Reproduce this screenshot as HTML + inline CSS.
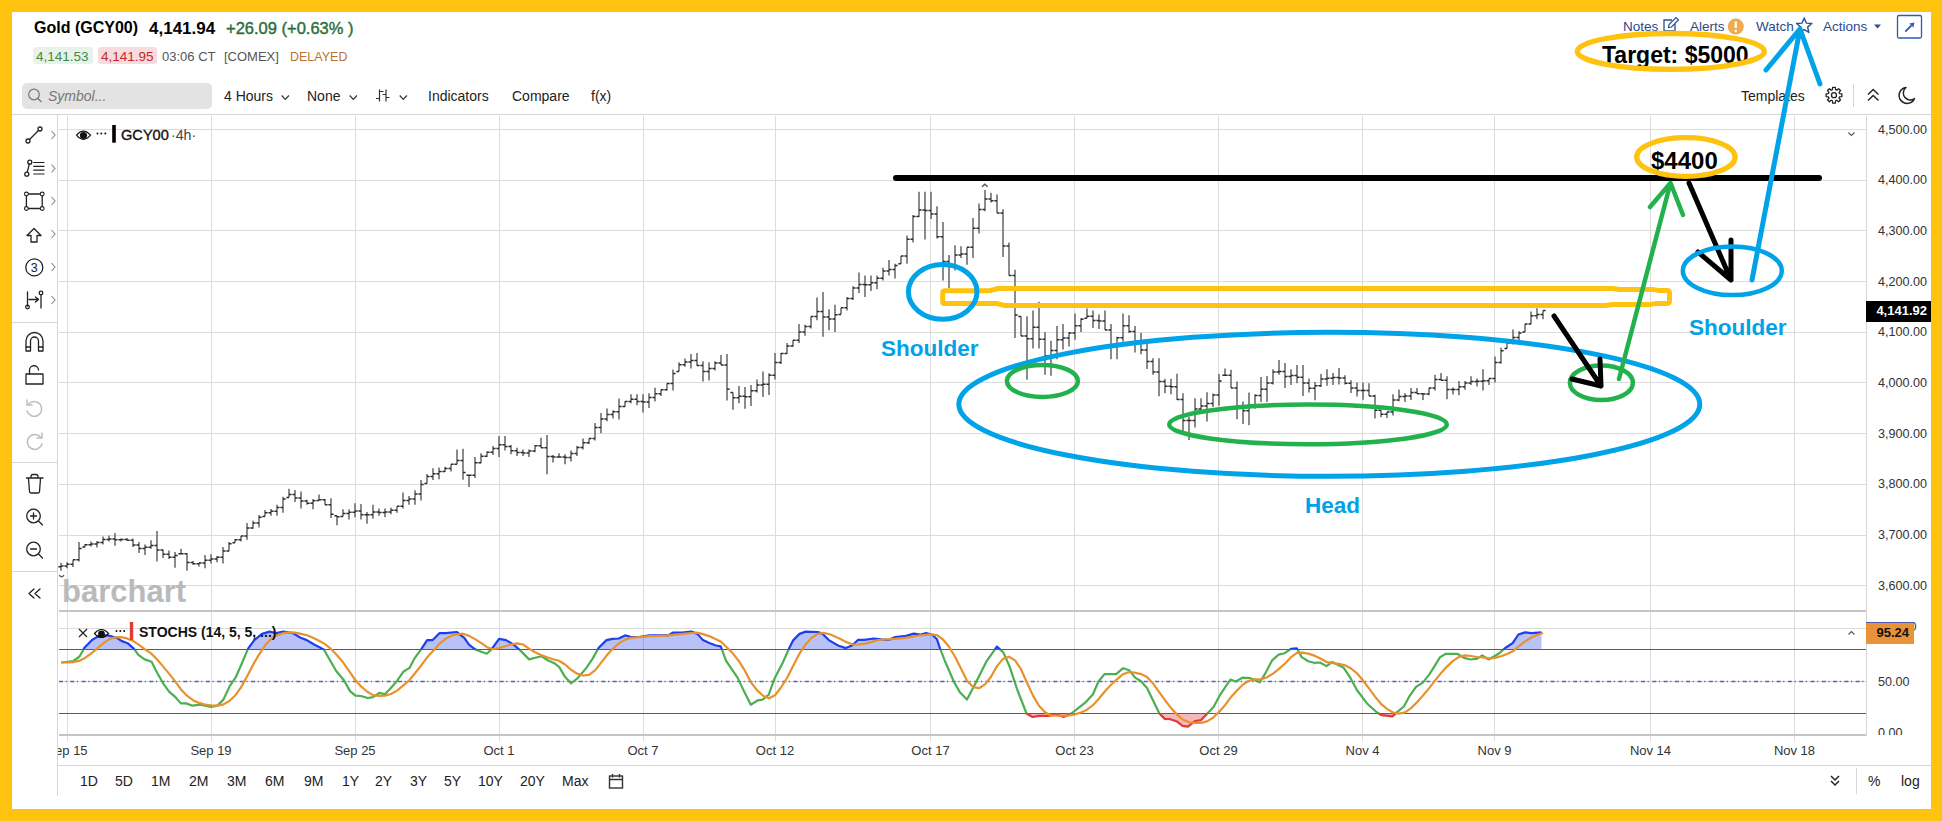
<!DOCTYPE html><html><head><meta charset="utf-8"><style>
*{margin:0;padding:0;box-sizing:border-box}
html,body{width:1942px;height:821px;overflow:hidden;background:#FFC20E;font-family:"Liberation Sans", sans-serif;}
#panel{position:absolute;left:12px;top:12px;width:1919px;height:797px;background:#fff}
.t{position:absolute;white-space:nowrap;line-height:1}
svg{position:absolute;left:0;top:0}
</style></head><body><div id="panel"></div>
<svg width="1942" height="821"><path d="M67.5 116V610M67.5 612V741M211.5 116V610M211.5 612V741M355.5 116V610M355.5 612V741M499.5 116V610M499.5 612V741M643.5 116V610M643.5 612V741M775.5 116V610M775.5 612V741M930.5 116V610M930.5 612V741M1074.5 116V610M1074.5 612V741M1218.5 116V610M1218.5 612V741M1362.5 116V610M1362.5 612V741M1494.5 116V610M1494.5 612V741M1650.5 116V610M1650.5 612V741M1794.5 116V610M1794.5 612V741M59 129.5H1866M59 180.5H1866M59 230.5H1866M59 281.5H1866M59 332.5H1866M59 382.5H1866M59 433.5H1866M59 484.5H1866M59 535.5H1866M59 585.5H1866M59 628.5H1866" stroke="#dcdcdc" stroke-width="1" fill="none" shape-rendering="crispEdges"/><path d="M59 611H1866M59 735H1866" stroke="#c4c4c4" stroke-width="2" fill="none" shape-rendering="crispEdges"/><path d="M1866.5 116V736M57.5 114V796" stroke="#d6d6d6" stroke-width="1" fill="none" shape-rendering="crispEdges"/><path d="M12 114.5H1931M57 765.5H1931M12 322.5H57M12 462.5H57M12 571.5H57" stroke="#d6d6d6" stroke-width="1" fill="none" shape-rendering="crispEdges"/><path d="M61 562.8V570.7M67 562.2V568.3M73 559.8V567.0M79 542.0V561.6M85 544.0V547.0M91 541.5V546.4M97 541.0V547.6M103 536.6V544.6M109 535.4V541.5M115 533.0V545.8M121 538.5V541.5M127 537.9V540.3M133 538.5V547.0M139 542.0V553.0M145 544.6V555.0M151 540.3V548.8M157 531.0V561.6M163 549.4V558.0M169 550.6V559.0M175 551.9V567.7M181 548.8V553.7M187 553.0V570.7M193 561.0V564.7M199 562.8V566.5M205 555.0V568.3M211 554.3V563.4M217 556.0V562.2M223 547.0V563.4M229 542.0V551.3M235 539.0V542.7M241 536.0V541.5M247 523.0V539.7M253 520.8V528.7M259 515.0V527.5M265 510.0V516.5M271 509.0V515.8M277 504.8V515.8M283 496.8V512.8M289 488.7V497.5M295 490.0V501.9M301 491.6V508.5M307 499.7V504.8M313 499.0V509.2M319 494.6V500.4M325 499.0V504.8M331 498.2V518.0M337 515.8V525.3M343 509.2V516.5M349 509.2V519.4M355 503.3V517.2M361 504.0V519.4M367 512.0V523.8M373 504.8V518.7M379 508.5V515.8M385 508.5V517.2M391 507.7V514.3M397 506.3V512.8M403 492.4V508.5M409 496.0V504.8M415 490.2V504.8M421 480.0V500.4M427 474.0V483.6M433 468.2V480.0M439 467.5V479.2M445 466.8V472.0M451 464.2V471.5M457 449.6V464.2M463 448.7V479.7M469 475.2V487.0M475 456.9V477.9M481 453.2V463.3M487 451.4V456.9M493 446.0V455.0M499 435.9V456.9M505 435.9V450.5M511 445.0V454.2M517 447.8V456.0M523 449.6V456.0M529 449.6V456.9M535 445.0V452.3M541 437.7V447.8M547 435.0V474.2M553 455.0V462.4M559 453.2V456.9M565 454.2V464.2M571 450.5V461.5M577 446.0V456.0M583 438.6V449.6M589 438.6V444.1M595 423.1V440.5M601 413.0V433.2M607 408.5V421.3M613 410.3V418.5M619 398.4V419.5M625 401.2V406.7M631 394.2V403.3M637 394.2V405.2M643 394.2V412.5M649 393.3V407.9M655 387.8V401.5M661 389.6V396.0M667 383.2V390.5M673 369.5V390.5M679 362.2V371.4M685 358.6V366.8M691 354.0V368.6M697 353.0V365.9M703 361.3V381.4M709 362.2V380.5M715 361.3V370.5M721 354.9V365.0M727 354.0V400.6M733 392.4V409.7M739 386.0V403.3M745 386.9V408.8M751 385.0V406.0M757 379.6V392.4M763 371.4V397.0M769 373.2V395.1M775 353.1V379.6M781 353.1V364.0M787 343.0V354.0M793 340.3V346.7M799 323.9V343.0M805 324.8V335.8M811 316.6V328.4M817 297.4V320.2M823 292.0V336.7M829 309.3V330.3M835 304.8V332.0M841 307.7V314.5M847 297.0V310.6M853 286.2V299.9M859 272.6V293.0M865 275.5V297.0M871 275.5V291.1M877 275.5V289.2M883 267.7V280.4M889 260.0V275.5M895 263.8V278.4M901 256.0V263.8M907 235.6V263.8M913 215.0V242.4M919 191.7V217.0M925 191.7V239.5M931 191.7V219.0M937 206.3V238.5M943 222.0V280.4M949 255.0V288.2M955 245.3V270.6M961 246.3V258.0M967 247.3V264.8M973 218.0V258.0M979 203.4V233.6M985 190.0V211.2M991 192.7V202.4M997 194.6V213.1M1003 209.2V257.0M1009 242.4V275.5M1015 269.7V337.9M1021 316.5V336.0M1027 316.3V379.7M1033 310.5V348.5M1039 301.7V348.5M1045 332.0V374.8M1051 340.7V375.8M1057 326.0V359.2M1063 324.1V349.5M1069 332.0V346.5M1075 313.4V339.7M1081 318.3V331.9M1087 308.5V318.3M1093 310.5V328.0M1099 314.4V329.0M1105 310.5V330.0M1111 324.1V359.2M1117 336.8V359.2M1123 313.4V341.7M1129 315.3V332.9M1135 326.0V352.4M1141 332.9V354.3M1147 343.6V369.0M1153 358.2V374.8M1159 358.2V396.2M1165 378.7V393.3M1171 378.7V394.3M1177 373.8V400.1M1183 393.3V431.3M1189 416.7V440.1M1195 398.2V427.4M1201 398.2V411.8M1207 392.3V421.6M1213 393.6V407.0M1219 374.1V405.8M1225 368.6V375.3M1231 369.8V388.1M1237 381.4V419.2M1243 401.5V424.0M1249 392.4V425.3M1255 394.2V408.8M1261 377.1V402.1M1267 375.9V402.1M1273 369.2V384.5M1279 360.1V374.7M1285 363.1V388.1M1291 369.2V385.0M1297 365.0V383.2M1303 365.0V396.0M1309 378.4V392.4M1315 382.0V400.3M1321 374.1V386.9M1327 369.2V385.7M1333 372.9V385.0M1339 368.0V384.5M1345 375.3V384.5M1351 380.2V393.0M1357 382.6V396.6M1363 382.6V399.7M1369 383.2V396.0M1375 394.8V418.6M1381 410.0V417.3M1387 411.9V418.0M1393 394.2V415.5M1399 389.5V401.2M1405 393.3V402.0M1411 388.1V400.0M1417 388.1V393.7M1423 392.9V400.0M1429 388.1V395.3M1435 374.7V390.5M1441 373.1V380.2M1447 376.3V399.2M1453 387.4V394.5M1459 381.0V395.3M1465 381.0V389.7M1471 376.3V385.0M1477 378.6V386.6M1483 369.2V390.5M1489 378.6V385.0M1495 356.5V382.6M1501 347.8V363.6M1507 343.0V348.6M1513 329.6V344.6M1519 331.2V344.6M1525 324.0V332.0M1531 311.4V324.0M1537 308.2V319.3M1543 310.6V319.3" stroke="#6e6e6e" stroke-width="1.6" fill="none"/><path d="M58.4 566.8H61M61 566.0H63.6M64.4 566.0H67M67 564.3H69.6M70.4 564.3H73M73 559.8H75.6M76.4 559.8H79M79 548.6H81.6M82.4 547.0H85M85 544.7H87.6M88.4 544.7H91M91 544.1H93.6M94.4 544.1H97M97 542.5H99.6M100.4 542.5H103M103 539.5H105.6M106.4 539.5H109M109 538.9H111.6M112.4 538.9H115M115 539.7H117.6M118.4 539.7H121M121 539.5H123.6M124.4 539.5H127M127 540.3H129.6M130.4 540.3H133M133 545.1H135.6M136.4 545.1H139M139 548.6H141.6M142.4 548.6H145M145 547.2H147.6M148.4 547.2H151M151 545.4H153.6M154.4 545.4H157M157 550.0H159.6M160.4 550.0H163M163 554.2H165.6M166.4 554.2H169M169 557.3H171.6M172.4 557.3H175M175 555.5H177.6M178.4 553.7H181M181 553.7H183.6M184.4 553.7H187M187 562.4H189.6M190.4 562.4H193M193 563.8H195.6M196.4 563.8H199M199 563.1H201.6M202.4 563.1H205M205 560.2H207.6M208.4 560.2H211M211 559.0H213.6M214.4 559.0H217M217 557.2H219.6M220.4 557.2H223M223 550.9H225.6M226.4 550.9H229M229 543.8H231.6M232.4 542.7H235M235 539.8H237.6M238.4 539.8H241M241 536.0H243.6M244.4 536.0H247M247 528.0H249.6M250.4 528.0H253M253 523.0H255.6M256.4 523.0H259M259 517.2H261.6M262.4 516.5H265M265 512.8H267.6M268.4 512.8H271M271 511.3H273.6M274.4 511.3H277M277 507.5H279.6M280.4 507.5H283M283 498.9H285.6M286.4 497.5H289M289 494.5H291.6M292.4 494.5H295M295 498.0H297.6M298.4 498.0H301M301 501.1H303.6M304.4 501.1H307M307 503.2H309.6M310.4 503.2H313M313 500.8H315.6M316.4 500.4H319M319 499.7H321.6M322.4 499.7H325M325 504.8H327.6M328.4 504.8H331M331 514.3H333.6M334.4 515.8H337M337 516.7H339.6M340.4 516.5H343M343 513.6H345.6M346.4 513.6H349M349 512.3H351.6M352.4 512.3H355M355 511.0H357.6M358.4 511.0H361M361 514.8H363.6M364.4 514.8H367M367 514.8H369.6M370.4 514.8H373M373 511.9H375.6M376.4 511.9H379M379 512.5H381.6M382.4 512.5H385M385 511.9H387.6M388.4 511.9H391M391 510.3H393.6M394.4 510.3H397M397 506.3H399.6M400.4 506.3H403M403 500.4H405.6M406.4 500.4H409M409 498.9H411.6M412.4 498.9H415M415 493.9H417.6M418.4 493.9H421M421 484.5H423.6M424.4 483.6H427M427 476.5H429.6M430.4 476.5H433M433 473.7H435.6M436.4 473.7H439M439 471.4H441.6M442.4 471.4H445M445 468.6H447.6M448.4 468.6H451M451 464.2H453.6M454.4 464.2H457M457 460.5H459.6M460.4 460.5H463M463 472.6H465.6M466.4 475.2H469M469 475.2H471.6M472.4 475.2H475M475 462.8H477.6M478.4 462.8H481M481 456.2H483.6M484.4 456.2H487M487 452.3H489.6M490.4 452.3H493M493 448.4H495.6M496.4 448.4H499M499 444.8H501.6M502.4 444.8H505M505 446.4H507.6M508.4 446.4H511M511 450.8H513.6M514.4 450.8H517M517 452.4H519.6M520.4 452.4H523M523 453.0H525.6M526.4 453.0H529M529 450.9H531.6M532.4 450.9H535M535 445.7H537.6M538.4 445.7H541M541 447.8H543.6M544.4 447.8H547M547 456.6H549.6M550.4 456.6H553M553 456.9H555.6M556.4 456.9H559M559 456.9H561.6M562.4 456.9H565M565 457.6H567.6M568.4 457.6H571M571 453.5H573.6M574.4 453.5H577M577 447.6H579.6M580.4 447.6H583M583 442.7H585.6M586.4 442.7H589M589 438.6H591.6M592.4 438.6H595M595 427.5H597.6M598.4 427.5H601M601 419.0H603.6M604.4 419.0H607M607 414.6H609.6M610.4 414.6H613M613 411.7H615.6M616.4 411.7H619M619 406.4H621.6M622.4 406.4H625M625 401.4H627.6M628.4 401.4H631M631 399.2H633.6M634.4 399.2H637M637 401.5H639.6M640.4 401.5H643M643 402.0H645.6M646.4 402.0H649M649 397.6H651.6M652.4 397.6H655M655 393.7H657.6M658.4 393.7H661M661 389.8H663.6M664.4 389.8H667M667 383.4H669.6M670.4 383.4H673M673 373.4H675.6M676.4 371.4H679M679 364.8H681.6M682.4 364.8H685M685 362.0H687.6M688.4 362.0H691M691 360.4H693.6M694.4 360.4H697M697 365.4H699.6M700.4 365.4H703M703 371.4H705.6M706.4 371.4H709M709 368.6H711.6M712.4 368.6H715M715 362.9H717.6M718.4 362.9H721M721 365.0H723.6M724.4 365.0H727M727 389.2H729.6M730.4 392.4H733M733 397.8H735.6M736.4 397.8H739M739 396.2H741.6M742.4 396.2H745M745 396.7H747.6M748.4 396.7H751M751 390.8H753.6M754.4 390.8H757M757 385.1H759.6M760.4 385.1H763M763 384.2H765.6M766.4 384.2H769M769 375.2H771.6M772.4 375.2H775M775 362.5H777.6M778.4 362.5H781M781 353.5H783.6M784.4 353.5H787M787 346.0H789.6M790.4 346.0H793M793 340.3H795.6M796.4 340.3H799M799 331.9H801.6M802.4 331.9H805M805 326.4H807.6M808.4 326.4H811M811 316.6H813.6M814.4 316.6H817M817 311.6H819.6M820.4 311.6H823M823 317.1H825.6M826.4 317.1H829M829 319.1H831.6M832.4 319.1H835M835 314.8H837.6M838.4 314.5H841M841 307.7H843.6M844.4 307.7H847M847 298.4H849.6M850.4 298.4H853M853 287.9H855.6M856.4 287.9H859M859 284.5H861.6M862.4 284.5H865M865 284.8H867.6M868.4 284.8H871M871 282.8H873.6M874.4 282.8H877M877 278.2H879.6M880.4 278.2H883M883 270.9H885.6M886.4 270.9H889M889 269.4H891.6M892.4 269.4H895M895 265.5H897.6M898.4 263.8H901M901 256.0H903.6M904.4 256.0H907M907 239.2H909.6M910.4 239.2H913M913 216.5H915.6M916.4 216.5H919M919 210.0H921.6M922.4 210.0H925M925 210.5H927.6M928.4 210.5H931M931 213.9H933.6M934.4 213.9H937M937 236.8H939.6M940.4 236.8H943M943 261.4H945.6M946.4 261.4H949M949 264.8H951.6M952.4 264.8H955M955 255.1H957.6M958.4 255.1H961M961 254.1H963.6M964.4 254.1H967M967 247.3H969.6M970.4 247.3H973M973 228.2H975.6M976.4 228.2H979M979 209.6H981.6M982.4 209.6H985M985 199.1H987.6M988.4 199.1H991M991 200.7H993.6M994.4 200.7H997M997 213.1H999.6M1000.4 213.1H1003M1003 246.0H1005.6M1006.4 246.0H1009M1009 275.5H1011.6M1012.4 275.5H1015M1015 315.0H1017.6M1018.4 316.5H1021M1021 336.0H1023.6M1024.4 336.0H1027M1027 338.8H1029.6M1030.4 338.8H1033M1033 327.3H1035.6M1036.4 327.3H1039M1039 339.2H1041.6M1042.4 339.2H1045M1045 355.8H1047.6M1048.4 355.8H1051M1051 350.4H1053.6M1054.4 350.4H1057M1057 339.7H1059.6M1060.4 339.7H1063M1063 338.0H1065.6M1066.4 338.0H1069M1069 332.9H1071.6M1072.4 332.9H1075M1075 325.8H1077.6M1078.4 325.8H1081M1081 319.2H1083.6M1084.4 318.3H1087M1087 316.3H1089.6M1090.4 316.3H1093M1093 320.5H1095.6M1096.4 320.5H1099M1099 321.0H1101.6M1102.4 321.0H1105M1105 330.0H1107.6M1108.4 330.0H1111M1111 344.8H1113.6M1114.4 344.8H1117M1117 337.8H1119.6M1120.4 337.8H1123M1123 325.8H1125.6M1126.4 325.8H1129M1129 331.6H1131.6M1132.4 331.6H1135M1135 341.4H1137.6M1138.4 341.4H1141M1141 350.0H1143.6M1144.4 350.0H1147M1147 361.4H1149.6M1150.4 361.4H1153M1153 371.9H1155.6M1156.4 371.9H1159M1159 381.6H1161.6M1162.4 381.6H1165M1165 386.2H1167.6M1168.4 386.2H1171M1171 386.7H1173.6M1174.4 386.7H1177M1177 399.6H1179.6M1180.4 399.6H1183M1183 420.4H1185.6M1186.4 420.4H1189M1189 420.6H1191.6M1192.4 420.6H1195M1195 408.9H1197.6M1198.4 408.9H1201M1201 406.0H1203.6M1204.4 406.0H1207M1207 403.6H1209.6M1210.4 403.6H1213M1213 395.1H1215.6M1216.4 395.1H1219M1219 381.0H1221.6M1222.4 375.3H1225M1225 375.3H1227.6M1228.4 375.3H1231M1231 388.1H1233.6M1234.4 388.1H1237M1237 406.5H1239.6M1240.4 406.5H1243M1243 410.8H1245.6M1246.4 410.8H1249M1249 405.2H1251.6M1252.4 405.2H1255M1255 395.6H1257.6M1258.4 395.6H1261M1261 389.3H1263.6M1264.4 389.3H1267M1267 382.9H1269.6M1270.4 382.9H1273M1273 372.1H1275.6M1276.4 372.1H1279M1279 371.5H1281.6M1282.4 371.5H1285M1285 376.4H1287.6M1288.4 376.4H1291M1291 375.6H1293.6M1294.4 375.6H1297M1297 377.3H1299.6M1300.4 377.3H1303M1303 382.9H1305.6M1306.4 382.9H1309M1309 388.3H1311.6M1312.4 388.3H1315M1315 385.8H1317.6M1318.4 385.8H1321M1321 379.0H1323.6M1324.4 379.0H1327M1327 378.2H1329.6M1330.4 378.2H1333M1333 377.6H1335.6M1336.4 377.6H1339M1339 378.1H1341.6M1342.4 378.1H1345M1345 383.2H1347.6M1348.4 383.2H1351M1351 388.1H1353.6M1354.4 388.1H1357M1357 390.4H1359.6M1360.4 390.4H1363M1363 390.4H1365.6M1366.4 390.4H1369M1369 396.0H1371.6M1372.4 396.0H1375M1375 410.2H1377.6M1378.4 410.2H1381M1381 414.3H1383.6M1384.4 414.3H1387M1387 411.9H1389.6M1390.4 411.9H1393M1393 400.1H1395.6M1396.4 400.1H1399M1399 396.5H1401.6M1402.4 396.5H1405M1405 395.9H1407.6M1408.4 395.9H1411M1411 392.5H1413.6M1414.4 392.5H1417M1417 393.7H1419.6M1420.4 393.7H1423M1423 394.1H1425.6M1426.4 394.1H1429M1429 388.1H1431.6M1432.4 388.1H1435M1435 379.6H1437.6M1438.4 379.6H1441M1441 380.2H1443.6M1444.4 380.2H1447M1447 389.4H1449.6M1450.4 389.4H1453M1453 389.5H1455.6M1456.4 389.5H1459M1459 386.8H1461.6M1462.4 386.8H1465M1465 383.0H1467.6M1468.4 383.0H1471M1471 381.6H1473.6M1474.4 381.6H1477M1477 381.2H1479.6M1480.4 381.2H1483M1483 380.8H1485.6M1486.4 380.8H1489M1489 378.6H1491.6M1492.4 378.6H1495M1495 362.6H1497.6M1498.4 362.6H1501M1501 350.8H1503.6M1504.4 348.6H1507M1507 343.0H1509.6M1510.4 343.0H1513M1513 337.5H1515.6M1516.4 337.5H1519M1519 332.9H1521.6M1522.4 332.0H1525M1525 324.0H1527.6M1528.4 324.0H1531M1531 315.7H1533.6M1534.4 315.7H1537M1537 314.4H1539.6M1540.4 314.4H1543M1543 310.6H1545.6" stroke="#2a2a2a" stroke-width="1.5" fill="none"/><defs><clipPath id="cAbove"><rect x="57" y="612" width="1809" height="37.5"/></clipPath><clipPath id="cBelow"><rect x="57" y="713.5" width="1809" height="40"/></clipPath><clipPath id="cMid"><rect x="57" y="649.5" width="1809" height="64.0"/></clipPath></defs><polygon points="61.2,649.5 61.2,662.5 73.5,661.0 79.7,656.3 84.4,647.8 92.0,640.0 99.8,635.4 107.5,635.4 116.8,637.8 121.4,640.9 127.6,643.2 133.8,648.6 138.4,654.8 144.6,659.4 151.6,661.7 157.0,672.5 163.1,683.3 169.3,691.8 175.5,697.2 180.9,703.4 186.3,703.4 192.5,705.7 200.2,704.7 211.0,706.8 217.2,705.7 223.4,699.6 229.6,686.4 235.8,677.2 241.9,663.3 248.1,648.6 254.3,640.1 262.0,633.9 269.7,631.6 275.9,633.1 283.6,631.6 292.9,633.1 300.6,637.8 306.8,640.1 314.5,644.7 323.8,649.4 330.0,660.2 336.2,671.0 343.9,680.3 350.0,691.1 355.4,695.7 360.8,696.0 367.8,698.0 373.2,697.2 379.4,692.9 384.8,694.2 390.2,688.7 396.3,681.8 403.3,671.8 409.5,667.9 414.9,657.8 421.1,649.4 427.2,640.1 432.7,640.1 439.6,633.1 445.8,633.1 456.6,632.0 464.3,637.8 469.0,644.7 475.1,649.4 481.3,651.7 486.7,653.7 491.4,649.4 499.1,638.8 506.0,640.1 513.8,644.7 519.9,650.1 529.2,659.4 535.4,657.8 541.6,656.3 547.7,660.2 553.9,662.9 559.3,667.1 564.7,676.4 570.9,683.3 577.1,678.7 586.4,667.9 592.6,658.6 598.7,647.8 606.5,640.1 612.6,638.8 618.8,638.5 625.0,635.4 631.2,637.0 638.9,637.0 649.6,635.4 660.4,635.4 668.2,635.4 672.8,632.7 682.1,632.7 691.3,631.6 697.5,633.9 702.9,640.1 709.9,643.2 716.1,645.5 720.7,646.3 726.1,660.9 737.7,677.9 743.9,691.1 750.8,704.7 757.8,700.3 762.4,699.6 768.6,694.9 774.8,677.9 782.5,663.3 789.4,647.8 793.3,640.1 799.5,633.9 805.7,631.6 818.0,632.0 822.7,633.9 828.8,640.1 838.1,645.5 845.8,648.1 852.0,645.5 858.2,639.8 864.4,639.8 873.6,638.5 881.4,639.3 889.1,639.8 895.3,637.0 906.1,635.9 913.8,633.6 920.0,634.7 926.2,633.1 932.3,634.7 937.0,639.3 940.1,648.6 944.6,660.2 953.9,681.8 960.1,692.6 967.0,699.6 975.5,683.3 986.3,661.7 996.9,646.6 1003.3,652.4 1009.5,666.3 1017.2,689.5 1026.5,713.5 1032.7,717.0 1038.9,715.8 1048.1,715.8 1057.4,714.5 1063.6,717.0 1071.3,713.5 1085.2,702.7 1093.0,694.2 1098.3,681.8 1104.5,674.1 1116.1,674.1 1123.1,668.2 1129.2,670.2 1135.4,677.9 1140.8,681.0 1147.0,688.0 1159.4,713.5 1164.8,718.9 1170.2,719.2 1176.4,721.2 1182.6,725.8 1188.0,726.6 1194.9,721.2 1201.1,720.1 1207.3,713.5 1213.4,707.3 1219.6,695.7 1230.4,679.5 1235.8,681.5 1242.4,677.7 1249.8,678.0 1259.7,682.3 1264.7,674.4 1272.1,660.4 1278.7,654.6 1284.4,653.3 1291.0,648.8 1296.8,648.3 1301.7,657.1 1308.3,661.2 1314.1,662.8 1319.9,662.5 1326.4,666.1 1332.2,662.0 1343.7,667.8 1350.3,677.7 1356.9,690.0 1366.8,703.2 1376.7,712.3 1381.6,715.2 1392.4,716.4 1396.5,712.6 1403.9,706.5 1409.7,695.8 1416.2,686.7 1422.8,682.6 1429.4,674.4 1440.1,657.1 1445.9,653.8 1457.4,653.8 1464.0,657.9 1470.6,659.5 1477.2,658.7 1482.2,655.4 1488.7,659.5 1498.6,653.8 1505.2,648.0 1512.6,643.1 1518.4,634.5 1525.0,632.4 1531.6,633.2 1541.5,632.4 1541.5,649.5" fill="#3a55e8" fill-opacity="0.36" clip-path="url(#cAbove)"/><polygon points="61.2,713.5 61.2,662.5 73.5,661.0 79.7,656.3 84.4,647.8 92.0,640.0 99.8,635.4 107.5,635.4 116.8,637.8 121.4,640.9 127.6,643.2 133.8,648.6 138.4,654.8 144.6,659.4 151.6,661.7 157.0,672.5 163.1,683.3 169.3,691.8 175.5,697.2 180.9,703.4 186.3,703.4 192.5,705.7 200.2,704.7 211.0,706.8 217.2,705.7 223.4,699.6 229.6,686.4 235.8,677.2 241.9,663.3 248.1,648.6 254.3,640.1 262.0,633.9 269.7,631.6 275.9,633.1 283.6,631.6 292.9,633.1 300.6,637.8 306.8,640.1 314.5,644.7 323.8,649.4 330.0,660.2 336.2,671.0 343.9,680.3 350.0,691.1 355.4,695.7 360.8,696.0 367.8,698.0 373.2,697.2 379.4,692.9 384.8,694.2 390.2,688.7 396.3,681.8 403.3,671.8 409.5,667.9 414.9,657.8 421.1,649.4 427.2,640.1 432.7,640.1 439.6,633.1 445.8,633.1 456.6,632.0 464.3,637.8 469.0,644.7 475.1,649.4 481.3,651.7 486.7,653.7 491.4,649.4 499.1,638.8 506.0,640.1 513.8,644.7 519.9,650.1 529.2,659.4 535.4,657.8 541.6,656.3 547.7,660.2 553.9,662.9 559.3,667.1 564.7,676.4 570.9,683.3 577.1,678.7 586.4,667.9 592.6,658.6 598.7,647.8 606.5,640.1 612.6,638.8 618.8,638.5 625.0,635.4 631.2,637.0 638.9,637.0 649.6,635.4 660.4,635.4 668.2,635.4 672.8,632.7 682.1,632.7 691.3,631.6 697.5,633.9 702.9,640.1 709.9,643.2 716.1,645.5 720.7,646.3 726.1,660.9 737.7,677.9 743.9,691.1 750.8,704.7 757.8,700.3 762.4,699.6 768.6,694.9 774.8,677.9 782.5,663.3 789.4,647.8 793.3,640.1 799.5,633.9 805.7,631.6 818.0,632.0 822.7,633.9 828.8,640.1 838.1,645.5 845.8,648.1 852.0,645.5 858.2,639.8 864.4,639.8 873.6,638.5 881.4,639.3 889.1,639.8 895.3,637.0 906.1,635.9 913.8,633.6 920.0,634.7 926.2,633.1 932.3,634.7 937.0,639.3 940.1,648.6 944.6,660.2 953.9,681.8 960.1,692.6 967.0,699.6 975.5,683.3 986.3,661.7 996.9,646.6 1003.3,652.4 1009.5,666.3 1017.2,689.5 1026.5,713.5 1032.7,717.0 1038.9,715.8 1048.1,715.8 1057.4,714.5 1063.6,717.0 1071.3,713.5 1085.2,702.7 1093.0,694.2 1098.3,681.8 1104.5,674.1 1116.1,674.1 1123.1,668.2 1129.2,670.2 1135.4,677.9 1140.8,681.0 1147.0,688.0 1159.4,713.5 1164.8,718.9 1170.2,719.2 1176.4,721.2 1182.6,725.8 1188.0,726.6 1194.9,721.2 1201.1,720.1 1207.3,713.5 1213.4,707.3 1219.6,695.7 1230.4,679.5 1235.8,681.5 1242.4,677.7 1249.8,678.0 1259.7,682.3 1264.7,674.4 1272.1,660.4 1278.7,654.6 1284.4,653.3 1291.0,648.8 1296.8,648.3 1301.7,657.1 1308.3,661.2 1314.1,662.8 1319.9,662.5 1326.4,666.1 1332.2,662.0 1343.7,667.8 1350.3,677.7 1356.9,690.0 1366.8,703.2 1376.7,712.3 1381.6,715.2 1392.4,716.4 1396.5,712.6 1403.9,706.5 1409.7,695.8 1416.2,686.7 1422.8,682.6 1429.4,674.4 1440.1,657.1 1445.9,653.8 1457.4,653.8 1464.0,657.9 1470.6,659.5 1477.2,658.7 1482.2,655.4 1488.7,659.5 1498.6,653.8 1505.2,648.0 1512.6,643.1 1518.4,634.5 1525.0,632.4 1531.6,633.2 1541.5,632.4 1541.5,713.5" fill="#e53945" fill-opacity="0.36" clip-path="url(#cBelow)"/><path d="M59 649.5H1866M59 713.5H1866" stroke="#4a55b0" stroke-width="1.1" fill="none"/><path d="M59 681.5H1866" stroke="#d8d8d8" stroke-width="1" fill="none"/><path d="M59 681.5H1866" stroke="#5561b5" stroke-width="1.3" stroke-dasharray="4 2.6 1.2 3.5" fill="none"/><polyline points="61.2,662.5 73.5,661.0 79.7,656.3 84.4,647.8 92.0,640.0 99.8,635.4 107.5,635.4 116.8,637.8 121.4,640.9 127.6,643.2 133.8,648.6 138.4,654.8 144.6,659.4 151.6,661.7 157.0,672.5 163.1,683.3 169.3,691.8 175.5,697.2 180.9,703.4 186.3,703.4 192.5,705.7 200.2,704.7 211.0,706.8 217.2,705.7 223.4,699.6 229.6,686.4 235.8,677.2 241.9,663.3 248.1,648.6 254.3,640.1 262.0,633.9 269.7,631.6 275.9,633.1 283.6,631.6 292.9,633.1 300.6,637.8 306.8,640.1 314.5,644.7 323.8,649.4 330.0,660.2 336.2,671.0 343.9,680.3 350.0,691.1 355.4,695.7 360.8,696.0 367.8,698.0 373.2,697.2 379.4,692.9 384.8,694.2 390.2,688.7 396.3,681.8 403.3,671.8 409.5,667.9 414.9,657.8 421.1,649.4 427.2,640.1 432.7,640.1 439.6,633.1 445.8,633.1 456.6,632.0 464.3,637.8 469.0,644.7 475.1,649.4 481.3,651.7 486.7,653.7 491.4,649.4 499.1,638.8 506.0,640.1 513.8,644.7 519.9,650.1 529.2,659.4 535.4,657.8 541.6,656.3 547.7,660.2 553.9,662.9 559.3,667.1 564.7,676.4 570.9,683.3 577.1,678.7 586.4,667.9 592.6,658.6 598.7,647.8 606.5,640.1 612.6,638.8 618.8,638.5 625.0,635.4 631.2,637.0 638.9,637.0 649.6,635.4 660.4,635.4 668.2,635.4 672.8,632.7 682.1,632.7 691.3,631.6 697.5,633.9 702.9,640.1 709.9,643.2 716.1,645.5 720.7,646.3 726.1,660.9 737.7,677.9 743.9,691.1 750.8,704.7 757.8,700.3 762.4,699.6 768.6,694.9 774.8,677.9 782.5,663.3 789.4,647.8 793.3,640.1 799.5,633.9 805.7,631.6 818.0,632.0 822.7,633.9 828.8,640.1 838.1,645.5 845.8,648.1 852.0,645.5 858.2,639.8 864.4,639.8 873.6,638.5 881.4,639.3 889.1,639.8 895.3,637.0 906.1,635.9 913.8,633.6 920.0,634.7 926.2,633.1 932.3,634.7 937.0,639.3 940.1,648.6 944.6,660.2 953.9,681.8 960.1,692.6 967.0,699.6 975.5,683.3 986.3,661.7 996.9,646.6 1003.3,652.4 1009.5,666.3 1017.2,689.5 1026.5,713.5 1032.7,717.0 1038.9,715.8 1048.1,715.8 1057.4,714.5 1063.6,717.0 1071.3,713.5 1085.2,702.7 1093.0,694.2 1098.3,681.8 1104.5,674.1 1116.1,674.1 1123.1,668.2 1129.2,670.2 1135.4,677.9 1140.8,681.0 1147.0,688.0 1159.4,713.5 1164.8,718.9 1170.2,719.2 1176.4,721.2 1182.6,725.8 1188.0,726.6 1194.9,721.2 1201.1,720.1 1207.3,713.5 1213.4,707.3 1219.6,695.7 1230.4,679.5 1235.8,681.5 1242.4,677.7 1249.8,678.0 1259.7,682.3 1264.7,674.4 1272.1,660.4 1278.7,654.6 1284.4,653.3 1291.0,648.8 1296.8,648.3 1301.7,657.1 1308.3,661.2 1314.1,662.8 1319.9,662.5 1326.4,666.1 1332.2,662.0 1343.7,667.8 1350.3,677.7 1356.9,690.0 1366.8,703.2 1376.7,712.3 1381.6,715.2 1392.4,716.4 1396.5,712.6 1403.9,706.5 1409.7,695.8 1416.2,686.7 1422.8,682.6 1429.4,674.4 1440.1,657.1 1445.9,653.8 1457.4,653.8 1464.0,657.9 1470.6,659.5 1477.2,658.7 1482.2,655.4 1488.7,659.5 1498.6,653.8 1505.2,648.0 1512.6,643.1 1518.4,634.5 1525.0,632.4 1531.6,633.2 1541.5,632.4" fill="none" stroke="#4caf50" stroke-width="2.2" stroke-linejoin="round" clip-path="url(#cMid)"/><polyline points="61.2,662.5 73.5,661.0 79.7,656.3 84.4,647.8 92.0,640.0 99.8,635.4 107.5,635.4 116.8,637.8 121.4,640.9 127.6,643.2 133.8,648.6 138.4,654.8 144.6,659.4 151.6,661.7 157.0,672.5 163.1,683.3 169.3,691.8 175.5,697.2 180.9,703.4 186.3,703.4 192.5,705.7 200.2,704.7 211.0,706.8 217.2,705.7 223.4,699.6 229.6,686.4 235.8,677.2 241.9,663.3 248.1,648.6 254.3,640.1 262.0,633.9 269.7,631.6 275.9,633.1 283.6,631.6 292.9,633.1 300.6,637.8 306.8,640.1 314.5,644.7 323.8,649.4 330.0,660.2 336.2,671.0 343.9,680.3 350.0,691.1 355.4,695.7 360.8,696.0 367.8,698.0 373.2,697.2 379.4,692.9 384.8,694.2 390.2,688.7 396.3,681.8 403.3,671.8 409.5,667.9 414.9,657.8 421.1,649.4 427.2,640.1 432.7,640.1 439.6,633.1 445.8,633.1 456.6,632.0 464.3,637.8 469.0,644.7 475.1,649.4 481.3,651.7 486.7,653.7 491.4,649.4 499.1,638.8 506.0,640.1 513.8,644.7 519.9,650.1 529.2,659.4 535.4,657.8 541.6,656.3 547.7,660.2 553.9,662.9 559.3,667.1 564.7,676.4 570.9,683.3 577.1,678.7 586.4,667.9 592.6,658.6 598.7,647.8 606.5,640.1 612.6,638.8 618.8,638.5 625.0,635.4 631.2,637.0 638.9,637.0 649.6,635.4 660.4,635.4 668.2,635.4 672.8,632.7 682.1,632.7 691.3,631.6 697.5,633.9 702.9,640.1 709.9,643.2 716.1,645.5 720.7,646.3 726.1,660.9 737.7,677.9 743.9,691.1 750.8,704.7 757.8,700.3 762.4,699.6 768.6,694.9 774.8,677.9 782.5,663.3 789.4,647.8 793.3,640.1 799.5,633.9 805.7,631.6 818.0,632.0 822.7,633.9 828.8,640.1 838.1,645.5 845.8,648.1 852.0,645.5 858.2,639.8 864.4,639.8 873.6,638.5 881.4,639.3 889.1,639.8 895.3,637.0 906.1,635.9 913.8,633.6 920.0,634.7 926.2,633.1 932.3,634.7 937.0,639.3 940.1,648.6 944.6,660.2 953.9,681.8 960.1,692.6 967.0,699.6 975.5,683.3 986.3,661.7 996.9,646.6 1003.3,652.4 1009.5,666.3 1017.2,689.5 1026.5,713.5 1032.7,717.0 1038.9,715.8 1048.1,715.8 1057.4,714.5 1063.6,717.0 1071.3,713.5 1085.2,702.7 1093.0,694.2 1098.3,681.8 1104.5,674.1 1116.1,674.1 1123.1,668.2 1129.2,670.2 1135.4,677.9 1140.8,681.0 1147.0,688.0 1159.4,713.5 1164.8,718.9 1170.2,719.2 1176.4,721.2 1182.6,725.8 1188.0,726.6 1194.9,721.2 1201.1,720.1 1207.3,713.5 1213.4,707.3 1219.6,695.7 1230.4,679.5 1235.8,681.5 1242.4,677.7 1249.8,678.0 1259.7,682.3 1264.7,674.4 1272.1,660.4 1278.7,654.6 1284.4,653.3 1291.0,648.8 1296.8,648.3 1301.7,657.1 1308.3,661.2 1314.1,662.8 1319.9,662.5 1326.4,666.1 1332.2,662.0 1343.7,667.8 1350.3,677.7 1356.9,690.0 1366.8,703.2 1376.7,712.3 1381.6,715.2 1392.4,716.4 1396.5,712.6 1403.9,706.5 1409.7,695.8 1416.2,686.7 1422.8,682.6 1429.4,674.4 1440.1,657.1 1445.9,653.8 1457.4,653.8 1464.0,657.9 1470.6,659.5 1477.2,658.7 1482.2,655.4 1488.7,659.5 1498.6,653.8 1505.2,648.0 1512.6,643.1 1518.4,634.5 1525.0,632.4 1531.6,633.2 1541.5,632.4" fill="none" stroke="#1d3ff0" stroke-width="2.2" stroke-linejoin="round" clip-path="url(#cAbove)"/><polyline points="61.2,662.5 73.5,661.0 79.7,656.3 84.4,647.8 92.0,640.0 99.8,635.4 107.5,635.4 116.8,637.8 121.4,640.9 127.6,643.2 133.8,648.6 138.4,654.8 144.6,659.4 151.6,661.7 157.0,672.5 163.1,683.3 169.3,691.8 175.5,697.2 180.9,703.4 186.3,703.4 192.5,705.7 200.2,704.7 211.0,706.8 217.2,705.7 223.4,699.6 229.6,686.4 235.8,677.2 241.9,663.3 248.1,648.6 254.3,640.1 262.0,633.9 269.7,631.6 275.9,633.1 283.6,631.6 292.9,633.1 300.6,637.8 306.8,640.1 314.5,644.7 323.8,649.4 330.0,660.2 336.2,671.0 343.9,680.3 350.0,691.1 355.4,695.7 360.8,696.0 367.8,698.0 373.2,697.2 379.4,692.9 384.8,694.2 390.2,688.7 396.3,681.8 403.3,671.8 409.5,667.9 414.9,657.8 421.1,649.4 427.2,640.1 432.7,640.1 439.6,633.1 445.8,633.1 456.6,632.0 464.3,637.8 469.0,644.7 475.1,649.4 481.3,651.7 486.7,653.7 491.4,649.4 499.1,638.8 506.0,640.1 513.8,644.7 519.9,650.1 529.2,659.4 535.4,657.8 541.6,656.3 547.7,660.2 553.9,662.9 559.3,667.1 564.7,676.4 570.9,683.3 577.1,678.7 586.4,667.9 592.6,658.6 598.7,647.8 606.5,640.1 612.6,638.8 618.8,638.5 625.0,635.4 631.2,637.0 638.9,637.0 649.6,635.4 660.4,635.4 668.2,635.4 672.8,632.7 682.1,632.7 691.3,631.6 697.5,633.9 702.9,640.1 709.9,643.2 716.1,645.5 720.7,646.3 726.1,660.9 737.7,677.9 743.9,691.1 750.8,704.7 757.8,700.3 762.4,699.6 768.6,694.9 774.8,677.9 782.5,663.3 789.4,647.8 793.3,640.1 799.5,633.9 805.7,631.6 818.0,632.0 822.7,633.9 828.8,640.1 838.1,645.5 845.8,648.1 852.0,645.5 858.2,639.8 864.4,639.8 873.6,638.5 881.4,639.3 889.1,639.8 895.3,637.0 906.1,635.9 913.8,633.6 920.0,634.7 926.2,633.1 932.3,634.7 937.0,639.3 940.1,648.6 944.6,660.2 953.9,681.8 960.1,692.6 967.0,699.6 975.5,683.3 986.3,661.7 996.9,646.6 1003.3,652.4 1009.5,666.3 1017.2,689.5 1026.5,713.5 1032.7,717.0 1038.9,715.8 1048.1,715.8 1057.4,714.5 1063.6,717.0 1071.3,713.5 1085.2,702.7 1093.0,694.2 1098.3,681.8 1104.5,674.1 1116.1,674.1 1123.1,668.2 1129.2,670.2 1135.4,677.9 1140.8,681.0 1147.0,688.0 1159.4,713.5 1164.8,718.9 1170.2,719.2 1176.4,721.2 1182.6,725.8 1188.0,726.6 1194.9,721.2 1201.1,720.1 1207.3,713.5 1213.4,707.3 1219.6,695.7 1230.4,679.5 1235.8,681.5 1242.4,677.7 1249.8,678.0 1259.7,682.3 1264.7,674.4 1272.1,660.4 1278.7,654.6 1284.4,653.3 1291.0,648.8 1296.8,648.3 1301.7,657.1 1308.3,661.2 1314.1,662.8 1319.9,662.5 1326.4,666.1 1332.2,662.0 1343.7,667.8 1350.3,677.7 1356.9,690.0 1366.8,703.2 1376.7,712.3 1381.6,715.2 1392.4,716.4 1396.5,712.6 1403.9,706.5 1409.7,695.8 1416.2,686.7 1422.8,682.6 1429.4,674.4 1440.1,657.1 1445.9,653.8 1457.4,653.8 1464.0,657.9 1470.6,659.5 1477.2,658.7 1482.2,655.4 1488.7,659.5 1498.6,653.8 1505.2,648.0 1512.6,643.1 1518.4,634.5 1525.0,632.4 1531.6,633.2 1541.5,632.4" fill="none" stroke="#e53935" stroke-width="2.2" stroke-linejoin="round" clip-path="url(#cBelow)"/><polyline points="61.0,662.5 67.0,662.4 73.0,662.1 79.0,660.9 85.0,657.9 91.0,653.6 97.0,648.6 103.0,643.5 109.0,639.3 115.0,637.3 121.0,637.2 127.0,638.4 133.0,640.9 139.0,644.8 145.0,649.3 151.0,653.4 157.0,659.3 163.0,666.4 169.0,673.6 175.0,681.1 181.0,689.4 187.0,695.7 193.0,700.2 199.0,702.9 205.0,704.6 211.0,705.3 217.0,705.7 223.0,704.6 229.0,701.2 235.0,695.7 241.0,687.4 247.0,676.5 253.0,664.9 259.0,654.6 265.0,645.6 271.0,638.9 277.0,635.2 283.0,633.2 289.0,632.4 295.0,632.7 301.0,633.9 307.0,635.3 313.0,637.8 319.0,640.7 325.0,644.1 331.0,648.9 337.0,655.2 343.0,662.3 349.0,670.8 355.0,679.6 361.0,686.4 367.0,691.5 373.0,695.1 379.0,695.9 385.0,695.6 391.0,694.0 397.0,690.6 403.0,685.6 409.0,680.6 415.0,673.3 421.0,665.7 427.0,657.6 433.0,651.1 439.0,644.2 445.0,639.3 451.0,635.9 457.0,634.3 463.0,633.7 469.0,635.9 475.0,639.1 481.0,642.9 487.0,647.2 493.0,649.2 499.0,648.1 505.0,646.2 511.0,644.5 517.0,643.3 523.0,644.5 529.0,648.6 535.0,652.2 541.0,654.9 547.0,657.3 553.0,659.2 559.0,660.7 565.0,664.5 571.0,669.8 577.0,673.6 583.0,675.5 589.0,674.9 595.0,670.4 601.0,662.9 607.0,655.1 613.0,648.5 619.0,643.4 625.0,639.6 631.0,637.9 637.0,637.3 643.0,636.8 649.0,636.2 655.0,636.2 661.0,635.9 667.0,635.6 673.0,634.9 679.0,634.3 685.0,633.7 691.0,633.0 697.0,632.6 703.0,634.1 709.0,636.1 715.0,638.7 721.0,641.8 727.0,647.5 733.0,653.6 739.0,661.2 745.0,670.9 751.0,682.3 757.0,690.1 763.0,695.7 769.0,698.3 775.0,695.2 781.0,687.5 787.0,678.0 793.0,666.3 799.0,654.4 805.0,645.3 811.0,638.4 817.0,634.1 823.0,632.8 829.0,634.0 835.0,636.4 841.0,639.3 847.0,642.4 853.0,644.5 859.0,644.4 865.0,643.6 871.0,642.1 877.0,640.4 883.0,639.3 889.0,639.3 895.0,638.8 901.0,638.3 907.0,637.7 913.0,636.6 919.0,635.5 925.0,634.8 931.0,634.4 937.0,635.1 943.0,639.5 949.0,646.7 955.0,656.8 961.0,668.6 967.0,680.7 973.0,687.1 979.0,688.2 985.0,684.4 991.0,676.7 997.0,666.1 1003.0,658.9 1009.0,656.7 1015.0,660.4 1021.0,669.2 1027.0,682.7 1033.0,695.6 1039.0,705.7 1045.0,712.3 1051.0,715.5 1057.0,715.7 1063.0,715.7 1069.0,715.4 1075.0,714.4 1081.0,712.5 1087.0,709.7 1093.0,705.2 1099.0,698.5 1105.0,691.2 1111.0,684.8 1117.0,679.3 1123.0,674.2 1129.0,672.0 1135.0,672.7 1141.0,674.1 1147.0,677.0 1153.0,683.4 1159.0,691.9 1165.0,700.2 1171.0,707.9 1177.0,714.6 1183.0,719.7 1189.0,722.3 1195.0,722.8 1201.0,722.9 1207.0,721.4 1213.0,717.7 1219.0,711.9 1225.0,705.2 1231.0,697.1 1237.0,690.5 1243.0,684.5 1249.0,680.8 1255.0,679.3 1261.0,679.4 1267.0,677.2 1273.0,673.6 1279.0,668.9 1285.0,663.5 1291.0,657.2 1297.0,652.9 1303.0,652.6 1309.0,653.9 1315.0,655.9 1321.0,658.8 1327.0,662.2 1333.0,663.1 1339.0,663.9 1345.0,665.3 1351.0,668.5 1357.0,673.3 1363.0,680.5 1369.0,688.4 1375.0,696.6 1381.0,703.8 1387.0,708.9 1393.0,712.5 1399.0,713.6 1405.0,712.3 1411.0,708.1 1417.0,702.2 1423.0,695.5 1429.0,688.4 1435.0,680.6 1441.0,673.1 1447.0,666.6 1453.0,660.9 1459.0,656.9 1465.0,655.4 1471.0,656.0 1477.0,657.0 1483.0,657.4 1489.0,658.3 1495.0,657.9 1501.0,656.3 1507.0,653.9 1513.0,651.2 1519.0,646.2 1525.0,641.5 1531.0,637.8 1537.0,635.0 1543.0,633.0" fill="none" stroke="#e8922e" stroke-width="2.2" stroke-linejoin="round"/></svg><div class="t" style="left:34px;top:19.5px;font-size:16px;font-weight:bold;color:#000">Gold (GCY00)</div><div class="t" style="left:149px;top:19.5px;font-size:17px;font-weight:bold;color:#000">4,141.94</div><div class="t" style="left:226px;top:19.5px;font-size:16.5px;color:#2b6e3b;-webkit-text-stroke:0.4px #2b6e3b">+26.09 (+0.63% )</div><div style="position:absolute;left:33px;top:47px;width:60px;height:17px;background:#e8f1ea;border-radius:3px"></div><div style="position:absolute;left:98px;top:47px;width:59px;height:17px;background:#f6dcde;border-radius:3px"></div><div class="t" style="left:36px;top:50px;font-size:13.5px;color:#3e8e41">4,141.53</div><div class="t" style="left:101px;top:50px;font-size:13.5px;color:#c62828">4,141.95</div><div class="t" style="left:162px;top:50px;font-size:13px;color:#555">03:06 CT</div><div class="t" style="left:224px;top:50px;font-size:13px;color:#555">[COMEX]</div><div class="t" style="left:290px;top:51px;font-size:12.5px;color:#b8732e">DELAYED</div><div style="position:absolute;left:22px;top:83px;width:190px;height:26px;background:#e3e3e3;border-radius:5px"></div><div class="t" style="left:48px;top:89px;font-size:14px;font-style:italic;color:#777">Symbol...</div><div class="t" style="left:224px;top:89px;font-size:14px;color:#222">4 Hours</div><div class="t" style="left:307px;top:89px;font-size:14px;color:#222">None</div><div class="t" style="left:428px;top:89px;font-size:14px;color:#222">Indicators</div><div class="t" style="left:512px;top:89px;font-size:14px;color:#222">Compare</div><div class="t" style="left:591px;top:89px;font-size:14px;color:#222">f(x)</div><div class="t" style="left:1741px;top:89px;font-size:14px;color:#222">Templates</div><div class="t" style="left:1623px;top:20px;font-size:13.5px;color:#2a4a8a">Notes</div><div class="t" style="left:1690px;top:20px;font-size:13.5px;color:#2a4a8a">Alerts</div><div class="t" style="left:1756px;top:20px;font-size:13.5px;color:#2a4a8a">Watch</div><div class="t" style="left:1823px;top:20px;font-size:13.5px;color:#2a4a8a">Actions</div><div class="t" style="right:15px;top:123.5px;font-size:12.6px;color:#333">4,500.00</div><div class="t" style="right:15px;top:174.2px;font-size:12.6px;color:#333">4,400.00</div><div class="t" style="right:15px;top:224.9px;font-size:12.6px;color:#333">4,300.00</div><div class="t" style="right:15px;top:275.6px;font-size:12.6px;color:#333">4,200.00</div><div class="t" style="right:15px;top:326.3px;font-size:12.6px;color:#333">4,100.00</div><div class="t" style="right:15px;top:377.0px;font-size:12.6px;color:#333">4,000.00</div><div class="t" style="right:15px;top:427.7px;font-size:12.6px;color:#333">3,900.00</div><div class="t" style="right:15px;top:478.4px;font-size:12.6px;color:#333">3,800.00</div><div class="t" style="right:15px;top:529.1px;font-size:12.6px;color:#333">3,700.00</div><div class="t" style="right:15px;top:579.8px;font-size:12.6px;color:#333">3,600.00</div><div style="position:absolute;left:1866px;top:301px;width:65px;height:21px;background:#000"></div><div class="t" style="right:15px;top:304px;font-size:13px;font-weight:bold;color:#fff">4,141.92</div><div class="t" style="left:1878px;top:621px;font-size:12.6px;color:#333">100.00</div><div style="position:absolute;left:1866px;top:622px;width:48px;height:22px;background:#e8923a;border-top:1px solid #4a5ab0"></div><div class="t" style="right:33px;top:626px;font-size:13px;font-weight:bold;color:#111">95.24</div><div class="t" style="left:1878px;top:676px;font-size:12.6px;color:#333">50.00</div><div style="position:absolute;left:1870px;top:727px;width:60px;height:8px;overflow:hidden"><div class="t" style="left:8px;top:0px;font-size:12.6px;color:#333">0.00</div></div><div style="position:absolute;left:58px;top:736px;width:1808px;height:28px;overflow:hidden"><div class="t" style="left:-31.0px;width:80px;text-align:center;top:8px;font-size:13px;color:#333">Sep 15</div><div class="t" style="left:113.0px;width:80px;text-align:center;top:8px;font-size:13px;color:#333">Sep 19</div><div class="t" style="left:257.0px;width:80px;text-align:center;top:8px;font-size:13px;color:#333">Sep 25</div><div class="t" style="left:401.0px;width:80px;text-align:center;top:8px;font-size:13px;color:#333">Oct 1</div><div class="t" style="left:545.0px;width:80px;text-align:center;top:8px;font-size:13px;color:#333">Oct 7</div><div class="t" style="left:677.0px;width:80px;text-align:center;top:8px;font-size:13px;color:#333">Oct 12</div><div class="t" style="left:832.5px;width:80px;text-align:center;top:8px;font-size:13px;color:#333">Oct 17</div><div class="t" style="left:976.5px;width:80px;text-align:center;top:8px;font-size:13px;color:#333">Oct 23</div><div class="t" style="left:1120.5px;width:80px;text-align:center;top:8px;font-size:13px;color:#333">Oct 29</div><div class="t" style="left:1264.5px;width:80px;text-align:center;top:8px;font-size:13px;color:#333">Nov 4</div><div class="t" style="left:1396.5px;width:80px;text-align:center;top:8px;font-size:13px;color:#333">Nov 9</div><div class="t" style="left:1552.5px;width:80px;text-align:center;top:8px;font-size:13px;color:#333">Nov 14</div><div class="t" style="left:1696.5px;width:80px;text-align:center;top:8px;font-size:13px;color:#333">Nov 18</div></div><div class="t" style="left:80px;top:774px;font-size:14px;color:#222">1D</div><div class="t" style="left:115px;top:774px;font-size:14px;color:#222">5D</div><div class="t" style="left:151px;top:774px;font-size:14px;color:#222">1M</div><div class="t" style="left:189px;top:774px;font-size:14px;color:#222">2M</div><div class="t" style="left:227px;top:774px;font-size:14px;color:#222">3M</div><div class="t" style="left:265px;top:774px;font-size:14px;color:#222">6M</div><div class="t" style="left:304px;top:774px;font-size:14px;color:#222">9M</div><div class="t" style="left:342px;top:774px;font-size:14px;color:#222">1Y</div><div class="t" style="left:375px;top:774px;font-size:14px;color:#222">2Y</div><div class="t" style="left:410px;top:774px;font-size:14px;color:#222">3Y</div><div class="t" style="left:444px;top:774px;font-size:14px;color:#222">5Y</div><div class="t" style="left:478px;top:774px;font-size:14px;color:#222">10Y</div><div class="t" style="left:520px;top:774px;font-size:14px;color:#222">20Y</div><div class="t" style="left:562px;top:774px;font-size:14px;color:#222">Max</div><div class="t" style="left:1868px;top:774px;font-size:14px;color:#222">%</div><div class="t" style="left:1901px;top:774px;font-size:14px;color:#222">log</div><div class="t" style="left:121px;top:128px;font-size:14.6px;color:#111;-webkit-text-stroke:0.35px #111">GCY00</div><div class="t" style="left:171px;top:128px;font-size:14.2px;color:#444">·4h·</div><div class="t" style="left:139px;top:625px;font-size:14px;font-weight:bold;color:#111">STOCHS (14, 5, 5, ...)</div><div class="t" style="left:62px;top:576px;font-size:31px;font-weight:bold;color:#bababa;letter-spacing:0px">barchart</div><div class="t" style="left:881px;top:338px;font-size:22.5px;font-weight:bold;color:#00A2E8">Shoulder</div><div class="t" style="left:1689px;top:317px;font-size:22.5px;font-weight:bold;color:#00A2E8">Shoulder</div><div class="t" style="left:1305px;top:495px;font-size:22.5px;font-weight:bold;color:#00A2E8">Head</div><div class="t" style="left:1651px;top:149px;font-size:24px;font-weight:bold;color:#000">$4400</div><div class="t" style="left:1602px;top:44px;font-size:23px;font-weight:bold;color:#000">Target: $5000</div><svg width="1942" height="821"><path d="M51.5 131L55 135L51.5 139" fill="none" stroke="#888" stroke-width="1.1"/><path d="M51.5 164.5L55 168.5L51.5 172.5" fill="none" stroke="#888" stroke-width="1.1"/><path d="M51.5 197L55 201L51.5 205" fill="none" stroke="#888" stroke-width="1.1"/><path d="M51.5 230L55 234L51.5 238" fill="none" stroke="#888" stroke-width="1.1"/><path d="M51.5 263L55 267L51.5 271" fill="none" stroke="#888" stroke-width="1.1"/><path d="M51.5 296L55 300L51.5 304" fill="none" stroke="#888" stroke-width="1.1"/><path d="M29.5 139.5L38.5 130.5" fill="none" stroke="#222" stroke-width="1.3" stroke-linecap="round" stroke-linejoin="round"/><circle cx="28" cy="141" r="2" fill="none" stroke="#222" stroke-width="1.3" stroke-linecap="round" stroke-linejoin="round"/><circle cx="40" cy="129" r="2" fill="none" stroke="#222" stroke-width="1.3" stroke-linecap="round" stroke-linejoin="round"/><circle cx="26.8" cy="174.2" r="2" fill="none" stroke="#222" stroke-width="1.3" stroke-linecap="round" stroke-linejoin="round"/><circle cx="29.8" cy="162.2" r="2" fill="none" stroke="#222" stroke-width="1.3" stroke-linecap="round" stroke-linejoin="round"/><path d="M27.3 172.2L29.3 164.2" fill="none" stroke="#222" stroke-width="1.3" stroke-linecap="round" stroke-linejoin="round"/><path d="M33.3 162.5H44.5M33.3 166.3H44.5M33.3 170.1H44.5M33.3 174H44.5" fill="none" stroke="#222" stroke-width="1.2"/><path d="M28.2 194H40.4M28.2 208.5H40.4M26.4 196V206.5M42.2 196V206.5" fill="none" stroke="#222" stroke-width="1.3" stroke-linecap="round" stroke-linejoin="round"/><circle cx="26.4" cy="194" r="1.9" fill="#fff" stroke="#222" stroke-width="1.1"/><circle cx="42.2" cy="194" r="1.9" fill="#fff" stroke="#222" stroke-width="1.1"/><circle cx="26.4" cy="208.5" r="1.9" fill="#fff" stroke="#222" stroke-width="1.1"/><circle cx="42.2" cy="208.5" r="1.9" fill="#fff" stroke="#222" stroke-width="1.1"/><path d="M34 228.5L41 235.5H37V242H31V235.5H27Z" fill="none" stroke="#222" stroke-width="1.3" stroke-linecap="round" stroke-linejoin="round"/><circle cx="34.3" cy="267.4" r="8.5" fill="none" stroke="#222" stroke-width="1.3" stroke-linecap="round" stroke-linejoin="round"/><text x="34.3" y="272" font-family="Liberation Sans" font-size="12.5" text-anchor="middle" fill="#222">3</text><path d="M27.5 292V306M41 295V308M29 299.5H38M35.5 297L38.5 299.5L35.5 302" fill="none" stroke="#222" stroke-width="1.3" stroke-linecap="round" stroke-linejoin="round"/><circle cx="41" cy="293" r="1.8" fill="none" stroke="#222" stroke-width="1.3" stroke-linecap="round" stroke-linejoin="round"/><circle cx="27.5" cy="307" r="1.8" fill="none" stroke="#222" stroke-width="1.3" stroke-linecap="round" stroke-linejoin="round"/><path d="M26 351V341A8.5 8.5 0 0 1 43 341V351H38.5V341A4 4 0 0 0 30.5 341V351Z" fill="none" stroke="#222" stroke-width="1.3" stroke-linecap="round" stroke-linejoin="round"/><path d="M26 347H30.5M38.5 347H43" fill="none" stroke="#222" stroke-width="1.3" stroke-linecap="round" stroke-linejoin="round"/><rect x="26" y="374" width="17" height="10" fill="none" stroke="#222" stroke-width="1.3" stroke-linecap="round" stroke-linejoin="round" stroke-width="1.6"/><path d="M29.5 374V370.5A4.5 4.5 0 0 1 38.5 370" fill="none" stroke="#222" stroke-width="1.3" stroke-linecap="round" stroke-linejoin="round" stroke-width="1.5"/><path d="M28.5 404A7.5 7.5 0 1 1 27 411" fill="none" stroke="#bdbdbd" stroke-width="1.5" stroke-linecap="round"/><path d="M27 400V405H32" fill="none" stroke="#bdbdbd" stroke-width="1.5" stroke-linecap="round"/><path d="M40.5 437A7.5 7.5 0 1 0 42 444" fill="none" stroke="#bdbdbd" stroke-width="1.5" stroke-linecap="round"/><path d="M42 433V438H37" fill="none" stroke="#bdbdbd" stroke-width="1.5" stroke-linecap="round"/><path d="M26.5 478H43M31 478V476A2 2 0 0 1 33 474.5H36A2 2 0 0 1 38 476V478M28.5 478.5L29.5 491.5A1.5 1.5 0 0 0 31 493H38A1.5 1.5 0 0 0 39.5 491.5L40.5 478.5" fill="none" stroke="#222" stroke-width="1.3" stroke-linecap="round" stroke-linejoin="round" stroke-width="1.5"/><circle cx="33.5" cy="516" r="6.8" fill="none" stroke="#222" stroke-width="1.3" stroke-linecap="round" stroke-linejoin="round" stroke-width="1.5"/><path d="M38.5 521L42.5 525M30.5 516H36.5M33.5 513V519" fill="none" stroke="#222" stroke-width="1.3" stroke-linecap="round" stroke-linejoin="round" stroke-width="1.5"/><circle cx="33.5" cy="549" r="6.8" fill="none" stroke="#222" stroke-width="1.3" stroke-linecap="round" stroke-linejoin="round" stroke-width="1.5"/><path d="M38.5 554L42.5 558M30.5 549H36.5" fill="none" stroke="#222" stroke-width="1.3" stroke-linecap="round" stroke-linejoin="round" stroke-width="1.5"/><path d="M34 589L29 593.5L34 598M40 589L35 593.5L40 598" fill="none" stroke="#222" stroke-width="1.3" stroke-linecap="round" stroke-linejoin="round" stroke-width="1.5"/><circle cx="34" cy="94.5" r="5.3" fill="none" stroke="#777" stroke-width="1.2"/><path d="M37.8 98.5L41.5 102" stroke="#777" stroke-width="1.3"/><path d="M281.7 95.5L285.3 99.3L288.90000000000003 95.5" fill="none" stroke="#333" stroke-width="1.2"/><path d="M349.7 95.5L353.3 99.3L356.90000000000003 95.5" fill="none" stroke="#333" stroke-width="1.2"/><path d="M399.7 95.5L403.3 99.3L406.90000000000003 95.5" fill="none" stroke="#333" stroke-width="1.2"/><path d="M379.5 89.5V101.5M376 98.5H379.5M379.5 91.5H383.5M386 89.5V101.5M382.5 94.5H386M386 97.5H389.5" fill="none" stroke="#333" stroke-width="1.2"/><polygon points="1839.57,93.60 1841.88,93.85 1841.88,96.55 1839.57,96.80 1839.07,98.01 1840.53,99.82 1838.62,101.73 1836.81,100.27 1835.60,100.77 1835.35,103.08 1832.65,103.08 1832.40,100.77 1831.19,100.27 1829.38,101.73 1827.47,99.82 1828.93,98.01 1828.43,96.80 1826.12,96.55 1826.12,93.85 1828.43,93.60 1828.93,92.39 1827.47,90.58 1829.38,88.67 1831.19,90.13 1832.40,89.63 1832.65,87.32 1835.35,87.32 1835.60,89.63 1836.81,90.13 1838.62,88.67 1840.53,90.58 1839.07,92.39" fill="none" stroke="#222" stroke-width="1.3" stroke-linejoin="round"/><circle cx="1834" cy="95.2" r="2.5" fill="none" stroke="#222" stroke-width="1.3"/><path d="M1853.5 84V107" stroke="#d4d4d4" stroke-width="1"/><path d="M1868 94.5L1873.2 89.5L1878.5 94.5M1868 100.5L1873.2 95.5L1878.5 100.5" fill="none" stroke="#222" stroke-width="1.4"/><path d="M1906 87.5A8 8 0 1 0 1914.5 98.5A6.5 6.5 0 0 1 1906 87.5Z" fill="none" stroke="#222" stroke-width="1.5" stroke-linejoin="round"/><path d="M1672 20H1664V31H1675V24" fill="none" stroke="#2d4f8e" stroke-width="1.3"/><path d="M1668.5 27.5L1669 24.5L1676 17.5L1678.5 20L1671.5 27Z" fill="none" stroke="#2d4f8e" stroke-width="1.2"/><circle cx="1735.8" cy="26.6" r="8" fill="#eeab52"/><path d="M1735.8 21.5V28" stroke="#fff" stroke-width="2.2"/><circle cx="1735.8" cy="31" r="1.2" fill="#fff"/><polygon points="1804.20,18.00 1806.32,23.09 1811.81,23.53 1807.62,27.11 1808.90,32.47 1804.20,29.60 1799.50,32.47 1800.78,27.11 1796.59,23.53 1802.08,23.09" fill="none" stroke="#2d4f8e" stroke-width="1.4" stroke-linejoin="round"/><path d="M1874 24.5H1881L1877.5 28.5Z" fill="#2d4f8e"/><rect x="1897.5" y="15.5" width="24" height="22.5" rx="1.5" fill="none" stroke="#2d5cab" stroke-width="1.3"/><path d="M1905.3 31.6L1911.5 25.4" stroke="#2d5cab" stroke-width="1.9"/><path d="M1914.4 22.6L1909.4 23.6L1913.4 27.6Z" fill="#2d5cab"/><path d="M76.5 135.2Q83.5 127 90.5 135.2Q83.5 143.5 76.5 135.2Z" fill="none" stroke="#111" stroke-width="1.2"/><circle cx="83.5" cy="135.5" r="3.6" fill="#111"/><circle cx="97.5" cy="133.5" r="1" fill="#111"/><circle cx="101.3" cy="133.5" r="1" fill="#111"/><circle cx="105.3" cy="133.5" r="1" fill="#111"/><rect x="112.2" y="125" width="3.6" height="17.7" fill="#000"/><path d="M79 629L87 637M87 629L79 637" stroke="#222" stroke-width="1.2"/><path d="M94.5 633.5Q101.5 625.5 108.5 633.5Q101.5 641.5 94.5 633.5Z" fill="none" stroke="#111" stroke-width="1.2"/><circle cx="101.5" cy="633.8" r="3.4" fill="#111"/><circle cx="116.5" cy="631" r="1" fill="#111"/><circle cx="120.3" cy="631" r="1" fill="#111"/><circle cx="124.1" cy="631" r="1" fill="#111"/><rect x="129.8" y="622" width="3.4" height="18" fill="#e53935"/><path d="M1848.5 132.5L1851.5 135.5L1854.5 132.5" fill="none" stroke="#555" stroke-width="1.1"/><path d="M1848.5 634.5L1851.5 631.5L1854.5 634.5" fill="none" stroke="#555" stroke-width="1.1"/><rect x="609.5" y="776" width="13" height="12" fill="none" stroke="#333" stroke-width="1.4"/><path d="M609.5 779.5H622.5M612.5 774V777.5M619.5 774V777.5" stroke="#333" stroke-width="1.4"/><path d="M1831 776L1835 780L1839 776M1831 781L1835 785L1839 781" fill="none" stroke="#222" stroke-width="1.5"/><path d="M1856.5 768V794" stroke="#d8d8d8" stroke-width="1"/><path d="M982 186.8L984.8 184.2L987.6 186.8" fill="none" stroke="#555" stroke-width="1.4"/><path d="M59.2 575.2Q61.6 578.6 64 575.2" fill="none" stroke="#555" stroke-width="1.3"/><line x1="896" y1="178" x2="1819" y2="178" stroke="#000" stroke-width="6" stroke-linecap="round"/><path d="M945 290.7H990L998 288.5H1612L1620 289.4H1652L1660 290.6H1667Q1669.5 290.6 1669.5 293V301Q1669.5 303.4 1667 303.4H1657L1649 304.6H1613L1605 305.5H1005L997 303.6H945Q942.7 303.6 942.7 301.4V293Q942.7 290.7 945 290.7Z" fill="none" stroke="#FFC20E" stroke-width="5" stroke-linejoin="round"/><ellipse cx="942.7" cy="291.8" rx="34.3" ry="27.4" fill="none" stroke="#00A2E8" stroke-width="5"/><ellipse cx="1329.3" cy="404.3" rx="370.5" ry="72" fill="none" stroke="#00A2E8" stroke-width="5"/><ellipse cx="1042.4" cy="380.9" rx="35.5" ry="16" fill="none" stroke="#22B14C" stroke-width="4.5"/><ellipse cx="1308" cy="424.4" rx="138.8" ry="19.8" fill="none" stroke="#22B14C" stroke-width="4.5"/><ellipse cx="1601.4" cy="382.8" rx="31.5" ry="17.3" fill="none" stroke="#22B14C" stroke-width="4.5"/><path d="M1554 316L1601 386M1572 379L1601 386L1600 359" fill="none" stroke="#000" stroke-width="5" stroke-linecap="round" stroke-linejoin="round"/><path d="M1619 379L1670.5 183M1650 207L1670.5 183L1683 215" fill="none" stroke="#22B14C" stroke-width="4.5" stroke-linecap="round" stroke-linejoin="round"/><ellipse cx="1685.9" cy="157" rx="49.2" ry="19.3" fill="none" stroke="#FFC20E" stroke-width="5.3"/><path d="M1689 183L1731 280M1698 252L1731 280L1731 240" fill="none" stroke="#000" stroke-width="5" stroke-linecap="round" stroke-linejoin="round"/><ellipse cx="1732.3" cy="270.8" rx="49.5" ry="24.3" fill="none" stroke="#00A2E8" stroke-width="4.5"/><path d="M1752 280L1800 29M1766 70L1800 29L1820 84" fill="none" stroke="#00A2E8" stroke-width="5" stroke-linecap="round" stroke-linejoin="round"/><ellipse cx="1670.8" cy="51.4" rx="93.5" ry="17.9" fill="none" stroke="#FFC20E" stroke-width="5.3"/></svg></body></html>
